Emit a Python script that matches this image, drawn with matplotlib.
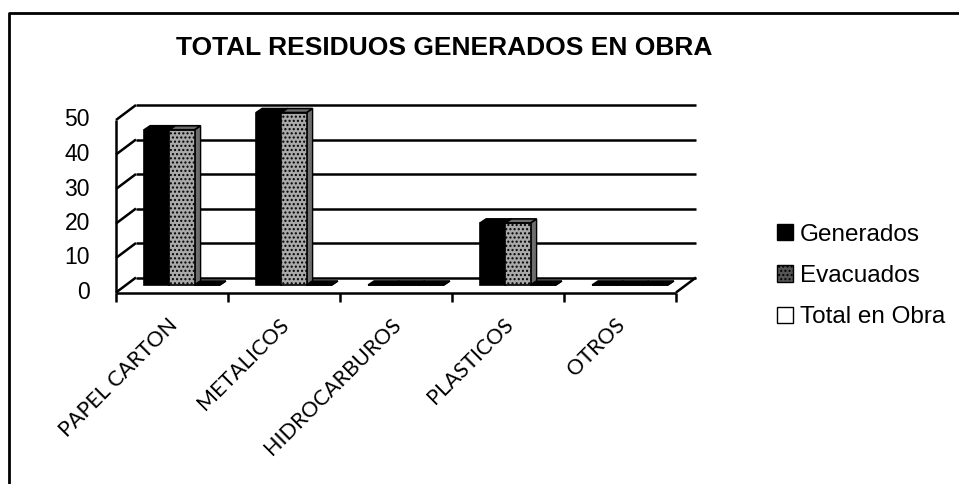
import matplotlib
matplotlib.use("Agg")
import matplotlib.pyplot as plt
from matplotlib.patches import Polygon, Patch
from matplotlib.lines import Line2D
import numpy as np

# ---- data ----
categories = ["PAPEL CARTON", "METALICOS", "HIDROCARBUROS", "PLASTICOS", "OTROS"]
generados = [45, 50, 0, 18, 0]
evacuados = [45, 50, 0, 18, 0]
total_obra = [0, 0, 0, 0, 0]
series_names = ["Generados", "Evacuados", "Total en Obra"]
y_ticks = [0, 10, 20, 30, 40, 50]
title = "TOTAL RESIDUOS GENERADOS EN OBRA"

W, H, DPI = 959, 484, 100
fig = plt.figure(figsize=(W / DPI, H / DPI), dpi=DPI)
fig.patch.set_facecolor("white")

def fx(px):
    return px / W

def fy(py):
    return 1 - py / H

# middle (bar) plane of the 3D box, in pixels
left_px, right_px = 126, 686
zero_px, top_px = 285, 112.5
ax = fig.add_axes([fx(left_px), fy(zero_px), (right_px - left_px) / W, (zero_px - top_px) / H])
ax.set_xlim(-0.5, len(categories) - 0.5)
ax.set_ylim(0, 50)
ax.axis("off")

ppc = (right_px - left_px) / len(categories)   # pixels per category
ppu = (zero_px - top_px) / 50.0                # pixels per unit
dX = 10 / ppc        # depth offset (half) in data units
dY = 7.5 / ppu

x0, x1 = -0.5, len(categories) - 0.5
line_kw = dict(color="black", lw=1.8, clip_on=False, solid_capstyle="butt")

# back wall gridlines
for v in y_ticks:
    ax.plot([x0 + dX, x1 + dX], [v + dY, v + dY], **line_kw)
# left wall slanted lines
for v in y_ticks:
    ax.plot([x0 - dX, x0 + dX], [v - dY, v + dY], **line_kw)
# left wall front vertical edge
ax.plot([x0 - dX, x0 - dX], [-dY, 50 - dY], **line_kw)
# floor front edge and right slant
ax.plot([x0 - dX, x1 - dX], [-dY, -dY], **line_kw)
ax.plot([x1 - dX, x1 + dX], [-dY, dY], **line_kw)
# category ticks on floor front
for i in range(len(categories) + 1):
    ax.plot([i - 0.5 - dX, i - 0.5 - dX], [-dY, -dY - 9 / ppu], **line_kw)

# bars
xs = np.arange(len(categories))
bw = 0.225
offs = [-bw, 0, bw]
faces = ["black", "#a9a9a9", "white"]
hatches = [None, "....", None]
side_faces = ["black", "#6d6d6d", "#d0d0d0"]
tdx, tdy = 6 / ppc, 4 / ppu
for vals, off, fc, hc, sc in zip([generados, evacuados, total_obra], offs, faces, hatches, side_faces):
    ax.bar(xs + off, vals, width=bw, color=fc, edgecolor="black", linewidth=1.2,
           hatch=hc, zorder=3, clip_on=False)
    for xi, v in zip(xs, vals):
        a, b = xi + off - bw / 2, xi + off + bw / 2
        top = Polygon([[a, v], [b, v], [b + tdx, v + tdy], [a + tdx, v + tdy]],
                      closed=True, facecolor="black" if v == 0 else sc,
                      edgecolor="black", lw=1.2, zorder=4, clip_on=False)
        side = Polygon([[b, 0], [b, v], [b + tdx, v + tdy], [b + tdx, tdy]],
                       closed=True, facecolor=sc, edgecolor="black", lw=1.0,
                       zorder=2, clip_on=False)
        ax.add_patch(side)
        ax.add_patch(top)

# y tick labels (front plane)
for v in y_ticks:
    ax.text(x0 - dX - 26 / ppc, v - dY, str(v), ha="right", va="center",
            fontsize=16.5, family="Liberation Sans", color="black", clip_on=False)

# category labels
for i, c in enumerate(categories):
    ax.text(i - dX - 5 / ppc, -dY - 22 / ppu, c, rotation=45, rotation_mode="anchor",
            ha="right", va="top", fontsize=15.5, family="Lato", color="black", clip_on=False)

# title
fig.text(fx(444), fy(48), title, ha="center", va="center", fontsize=19,
         fontweight="bold", family="Liberation Sans")

# legend
handles = [Patch(facecolor="black", edgecolor="black"),
           Patch(facecolor="#555555", edgecolor="black", hatch="...."),
           Patch(facecolor="white", edgecolor="black")]
leg = fig.legend(handles, series_names, loc="center left", bbox_to_anchor=(fx(755), fy(276)),
                 frameon=False, handlelength=0.65, handleheight=0.65, handletextpad=0.3,
                 labelspacing=0.8, prop={"family": "Liberation Sans", "size": 17.5})

# outer frame
fig.add_artist(Line2D([fx(9), fx(9), fx(958)], [fy(484), fy(13), fy(13)],
                      transform=fig.transFigure, color="black", lw=2))

fig.savefig("out.png", dpi=DPI)
